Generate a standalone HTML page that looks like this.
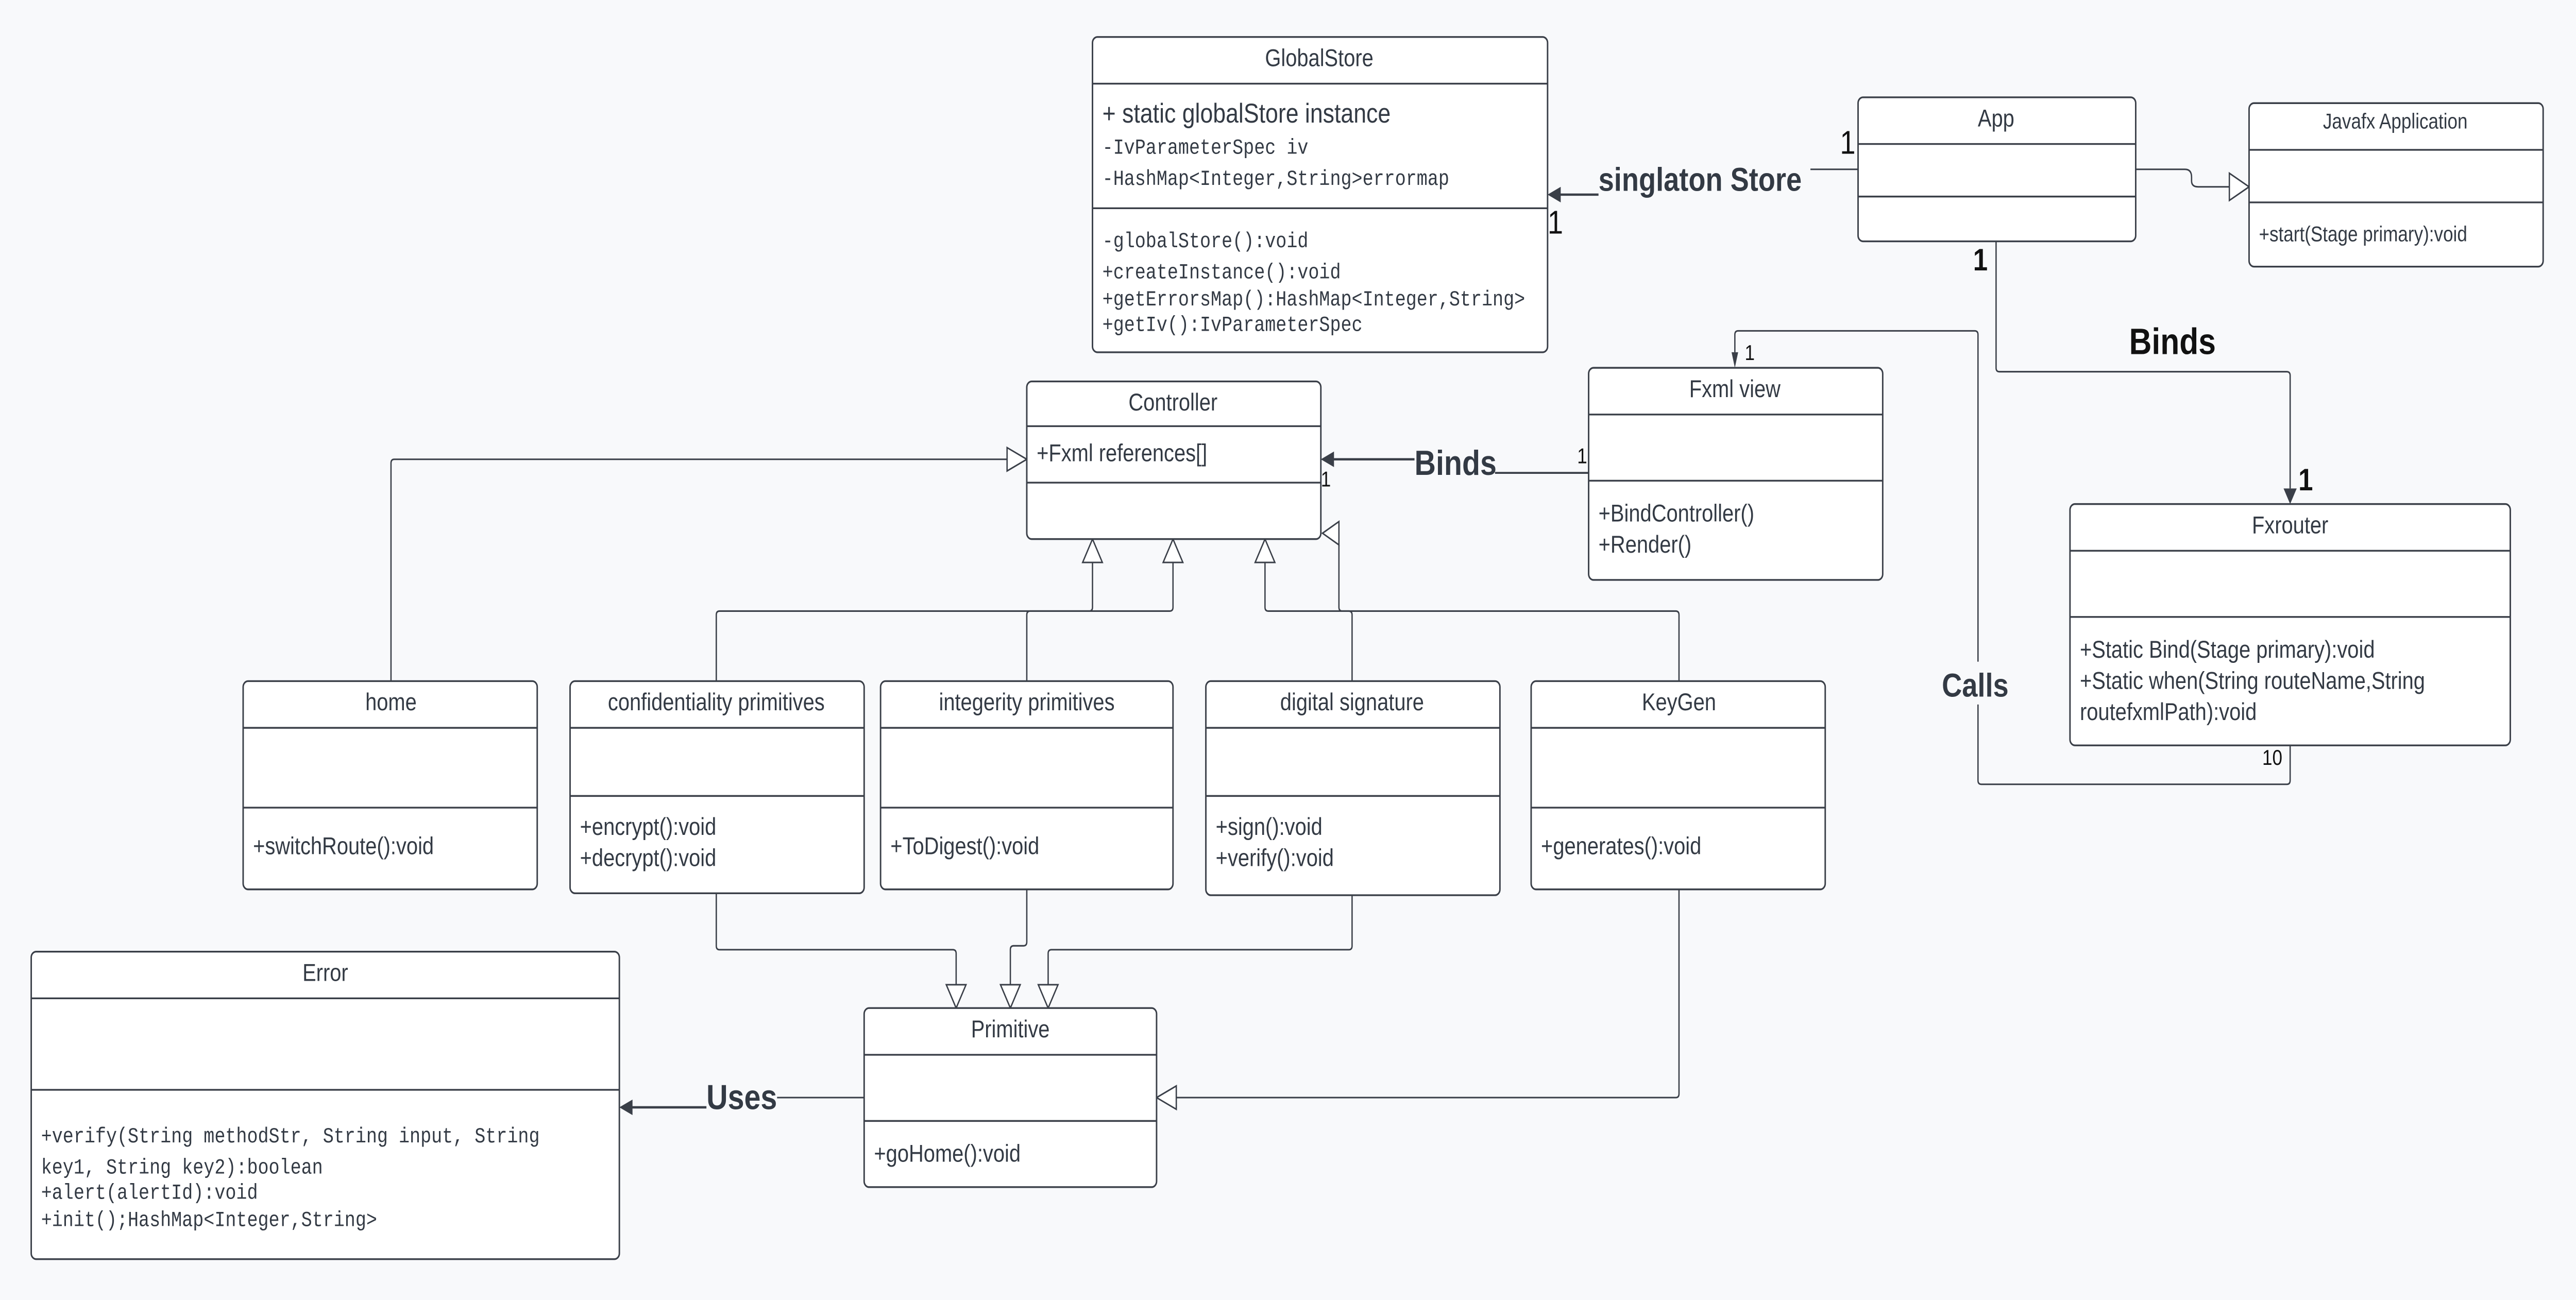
<!DOCTYPE html>
<html><head><meta charset="utf-8"><style>
html,body{margin:0;padding:0;background:#f8f9fb;width:100%;height:100%;overflow:hidden;}
svg{display:block;width:100vw;height:100vh;}
text{fill:#333a44;font-family:"Liberation Sans",sans-serif;}
.t{font-size:12.5px;text-anchor:middle;}
.m{font-size:12.5px;}
.mono{font-family:"Liberation Mono",monospace;font-size:11px;}
.lb{font-weight:bold;font-size:18px;}
.sm{font-size:11px;fill:#111;}
.box{fill:#fff;stroke:#3a3f48;stroke-width:0.9;}
.ln{stroke:#3a3f48;stroke-width:0.9;}
.c{fill:none;stroke:#3a3f48;stroke-width:0.8;}
.tri{fill:#fff;stroke:#3a3f48;stroke-width:0.8;}
.ar{fill:#3a3f48;}
</style></head><body>
<svg viewBox="0 0 1568 668" preserveAspectRatio="none" xmlns="http://www.w3.org/2000/svg">
<rect x="0" y="0" width="1568" height="668" fill="#f8f9fb"/>

<path class="c" d="M1131,87 H1101"/>
<rect x="972" y="80" width="130" height="22" fill="#f8f9fb"/>
<text class="lb" x="973" y="98" style="font-size:17px">singlaton Store</text>
<path class="c" d="M973,100 H948" style="stroke-width:1.2"/>
<path class="ar" d="M942,100 L950,96 L950,104 Z"/>
<text x="1120" y="79" style="font-size:17px;fill:#111">1</text>
<text x="942" y="120" style="font-size:17px;fill:#111">1</text>

<path class="c" d="M1300,87 H1330 Q1334,87 1334,91 V93 Q1334,96 1338,96 H1357"/>
<path class="tri" d="M1357,89 L1369,96 L1357,103 Z"/>

<path class="c" d="M1215,124 V189 Q1215,191 1217,191 H1392 Q1394,191 1394,193 V251"/>
<path class="ar" d="M1390,251 L1394,259 L1398,251 Z"/>
<text class="lb" x="1296" y="182" style="font-size:19px;fill:#111">Binds</text>
<text x="1201" y="139" style="font-size:16px;font-weight:bold;fill:#111">1</text>
<text x="1399" y="252" style="font-size:16px;font-weight:bold;fill:#111">1</text>

<path class="c" d="M967,243 H910" style="stroke-width:1"/>
<text class="lb" x="861" y="244">Binds</text>
<path class="c" d="M861,236 H811" style="stroke-width:1.2"/>
<path class="ar" d="M804,236 L812,232 L812,240 Z"/>
<text class="sm" x="960" y="238">1</text>
<text class="sm" x="804" y="250">1</text>

<path class="c" d="M1394,383 V401 Q1394,403 1392,403 H1206 Q1204,403 1204,401 V172 Q1204,170 1202,170 H1058 Q1056,170 1056,172 V181"/>
<path class="ar" d="M1054,181 L1056,189 L1058,181 Z"/>
<rect x="1180" y="340" width="48" height="22" fill="#f8f9fb"/>
<text class="lb" x="1182" y="358" style="font-size:17px">Calls</text>
<text class="sm" x="1377" y="393">10</text>
<text class="sm" x="1062" y="185">1</text>

<path class="c" d="M238,350 V238 Q238,236 240,236 H613"/>
<path class="tri" d="M613,230 L625,236 L613,242 Z"/>

<path class="c" d="M436,350 V316 Q436,314 438,314 H663 Q665,314 665,312 V289"/>
<path class="tri" d="M659,289 L665,277 L671,289 Z"/>
<path class="c" d="M625,350 V316 Q625,314 627,314 H712 Q714,314 714,312 V289"/>
<path class="tri" d="M708,289 L714,277 L720,289 Z"/>
<path class="c" d="M823,350 V316 Q823,314 821,314 H772 Q770,314 770,312 V289"/>
<path class="tri" d="M764,289 L770,277 L776,289 Z"/>
<path class="c" d="M1022,350 V316 Q1022,314 1020,314 H817 Q815,314 815,312 V280"/>
<path class="tri" d="M815,268 L805,274 L815,280 Z"/>

<path class="c" d="M436,459 V486 Q436,488 438,488 H580 Q582,488 582,490 V506"/>
<path class="tri" d="M576,506 L582,518 L588,506 Z"/>
<path class="c" d="M625,457 V484 Q625,486 623,486 H617 Q615,486 615,488 V506"/>
<path class="tri" d="M609,506 L615,518 L621,506 Z"/>
<path class="c" d="M823,460 V486 Q823,488 821,488 H640 Q638,488 638,490 V506"/>
<path class="tri" d="M632,506 L638,518 L644,506 Z"/>
<path class="c" d="M1022,457 V562 Q1022,564 1020,564 H716"/>
<path class="tri" d="M716,558 L704,564 L716,570 Z"/>

<path class="c" d="M526,564 H473"/>
<text class="lb" x="430" y="570">Uses</text>
<path class="c" d="M430,569 H384" style="stroke-width:1.2"/>
<path class="ar" d="M377,569 L385,565 L385,573 Z"/>

<rect class="box" x="665" y="19" width="277" height="162" rx="3"/>
<line class="ln" x1="665" y1="43" x2="942" y2="43"/>
<line class="ln" x1="665" y1="107" x2="942" y2="107"/>
<text class="t" x="803" y="34">GlobalStore</text>
<text class="m" x="671" y="63" style="font-size:14px">+ static globalStore instance</text>
<text class="mono" x="671" y="79">-IvParameterSpec iv</text>
<text class="mono" x="671" y="95">-HashMap&lt;Integer,String&gt;errormap</text>
<text class="mono" x="671" y="127">-globalStore():void</text>
<text class="mono" x="671" y="143">+createInstance():void</text>
<text class="mono" x="671" y="157">+getErrorsMap():HashMap&lt;Integer,String&gt;</text>
<text class="mono" x="671" y="170">+getIv():IvParameterSpec</text>

<rect class="box" x="1131" y="50" width="169" height="74" rx="3"/>
<line class="ln" x1="1131" y1="74" x2="1300" y2="74"/>
<line class="ln" x1="1131" y1="101" x2="1300" y2="101"/>
<text class="t" x="1215" y="65">App</text>

<rect class="box" x="1369" y="53" width="179" height="84" rx="3"/>
<line class="ln" x1="1369" y1="77" x2="1548" y2="77"/>
<line class="ln" x1="1369" y1="104" x2="1548" y2="104"/>
<text class="t" x="1458" y="66" style="font-size:11px">Javafx Application</text>
<text x="1375" y="124" style="font-size:11px">+start(Stage primary):void</text>

<rect class="box" x="625" y="196" width="179" height="81" rx="3"/>
<line class="ln" x1="625" y1="219" x2="804" y2="219"/>
<line class="ln" x1="625" y1="248" x2="804" y2="248"/>
<text class="t" x="714" y="211">Controller</text>
<text class="m" x="631" y="237">+Fxml references[]</text>

<rect class="box" x="967" y="189" width="179" height="109" rx="3"/>
<line class="ln" x1="967" y1="213" x2="1146" y2="213"/>
<line class="ln" x1="967" y1="247" x2="1146" y2="247"/>
<text class="t" x="1056" y="204">Fxml view</text>
<text class="m" x="973" y="268">+BindController()</text>
<text class="m" x="973" y="284">+Render()</text>

<rect class="box" x="1260" y="259" width="268" height="124" rx="3"/>
<line class="ln" x1="1260" y1="283" x2="1528" y2="283"/>
<line class="ln" x1="1260" y1="317" x2="1528" y2="317"/>
<text class="t" x="1394" y="274">Fxrouter</text>
<text class="m" x="1266" y="338">+Static Bind(Stage primary):void</text>
<text class="m" x="1266" y="354">+Static when(String routeName,String</text>
<text class="m" x="1266" y="370">routefxmlPath):void</text>

<rect class="box" x="148" y="350" width="179" height="107" rx="3"/>
<line class="ln" x1="148" y1="374" x2="327" y2="374"/>
<line class="ln" x1="148" y1="415" x2="327" y2="415"/>
<text class="t" x="238" y="365">home</text>
<text class="m" x="154" y="439">+switchRoute():void</text>

<rect class="box" x="347" y="350" width="179" height="109" rx="3"/>
<line class="ln" x1="347" y1="374" x2="526" y2="374"/>
<line class="ln" x1="347" y1="409" x2="526" y2="409"/>
<text class="t" x="436" y="365">confidentiality primitives</text>
<text class="m" x="353" y="429">+encrypt():void</text>
<text class="m" x="353" y="445">+decrypt():void</text>

<rect class="box" x="536" y="350" width="178" height="107" rx="3"/>
<line class="ln" x1="536" y1="374" x2="714" y2="374"/>
<line class="ln" x1="536" y1="415" x2="714" y2="415"/>
<text class="t" x="625" y="365">integerity primitives</text>
<text class="m" x="542" y="439">+ToDigest():void</text>

<rect class="box" x="734" y="350" width="179" height="110" rx="3"/>
<line class="ln" x1="734" y1="374" x2="913" y2="374"/>
<line class="ln" x1="734" y1="409" x2="913" y2="409"/>
<text class="t" x="823" y="365">digital signature</text>
<text class="m" x="740" y="429">+sign():void</text>
<text class="m" x="740" y="445">+verify():void</text>

<rect class="box" x="932" y="350" width="179" height="107" rx="3"/>
<line class="ln" x1="932" y1="374" x2="1111" y2="374"/>
<line class="ln" x1="932" y1="415" x2="1111" y2="415"/>
<text class="t" x="1022" y="365">KeyGen</text>
<text class="m" x="938" y="439">+generates():void</text>

<rect class="box" x="19" y="489" width="358" height="158" rx="3"/>
<line class="ln" x1="19" y1="513" x2="377" y2="513"/>
<line class="ln" x1="19" y1="560" x2="377" y2="560"/>
<text class="t" x="198" y="504">Error</text>
<text class="mono" x="25" y="587">+verify(String methodStr, String input, String</text>
<text class="mono" x="25" y="603">key1, String key2):boolean</text>
<text class="mono" x="25" y="616">+alert(alertId):void</text>
<text class="mono" x="25" y="630">+init();HashMap&lt;Integer,String&gt;</text>

<rect class="box" x="526" y="518" width="178" height="92" rx="3"/>
<line class="ln" x1="526" y1="542" x2="704" y2="542"/>
<line class="ln" x1="526" y1="576" x2="704" y2="576"/>
<text class="t" x="615" y="533">Primitive</text>
<text class="m" x="532" y="597">+goHome():void</text>
</svg>
</body></html>
